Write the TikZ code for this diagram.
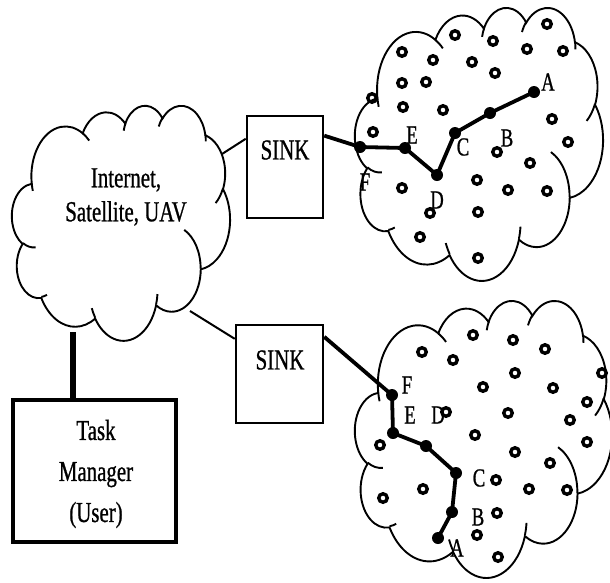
\documentclass[tikz,border=0pt]{standalone}
\usepackage{fontspec}
\setmainfont[FakeStretch=0.72, FakeBold=0.8]{Liberation Serif}
\usetikzlibrary{calc}
\newcommand\cloudarc[4]{\pgfextra{%
  \pgfmathparse{atan2((#1)*sin(#3),(#2)*cos(#3))}\xdef\cta{\pgfmathresult}%
  \pgfmathparse{atan2((#1)*sin(#3+#4),(#2)*cos(#3+#4))}\xdef\ctb{\pgfmathresult}%
  \pgfmathparse{\ctb-\cta}%
  \ifdim\pgfmathresult pt<0pt \pgfmathparse{\pgfmathresult+360}\fi
  \xdef\ctd{\pgfmathresult}}
  arc[start angle=\cta, delta angle=\ctd, x radius=#1, y radius=#2]}
\newcommand\wordcloud{%
  \draw[cloudline, fill=white] (390,1437)
    \cloudarc{675.3}{919}{-190.4875}{123.7805}
    \cloudarc{533.3}{726.7}{-144.1024}{89.9452}
    \cloudarc{436.5}{594.5}{-145.8079}{99.7230}
    \cloudarc{485.7}{659.5}{-130.9861}{117.2417}
    \cloudarc{533.3}{727.3}{-78.7089}{109.0269}
    \cloudarc{677.5}{922}{-46.2673}{130.2690}
    \cloudarc{578.5}{786.7}{0.6250}{114.0333}
    \cloudarc{675.2}{921.5}{22.4516}{115.1726}
    \cloudarc{772}{1054.3}{66.2426}{75.7110}
    \cloudarc{436}{591.8}{-274.9421}{146.7356}
    \cloudarc{434.5}{594.5}{-246.8285}{152.5189} -- cycle;
  \draw[cloudline]
    (469.3,2617.7) \cloudarc{434.5}{594.5}{86.7420}{26.4295}
    (692.8,3489.9) \cloudarc{436}{591.8}{73.6105}{11.4475}
    (1647.8,3909) \cloudarc{675.2}{921.5}{137.6242}{14.0811}
    (2882.7,3475.1) \cloudarc{675.2}{921.5}{6.4533}{15.9984}
    (3412.9,2295.4) \cloudarc{578.5}{786.7}{-70.2924}{70.9174}
    (4179.8,1535.4) \cloudarc{533.3}{727.3}{30.3180}{27.7515}
    (3832.4,542.6) \cloudarc{485.7}{659.5}{-13.7443}{14.8589}
    (2907.8,395.2) \cloudarc{485.7}{659.5}{-149.1815}{18.1954}
    (2214.1,472) \cloudarc{436.5}{594.5}{-163.4943}{17.6864}
    (1400,519.2) \cloudarc{675.3}{919}{-66.7070}{12.3194}
    (412.7,1578.9) \cloudarc{675.3}{919}{157.6544}{11.8582};}
\begin{document}
\begin{tikzpicture}[x=1pt,y=-1pt,
  cloudline/.style={line width=1.9pt},
  ring/.style={circle, draw, line width=3.4pt, minimum size=8.5pt, inner sep=0pt},
  dot/.style={circle, fill, minimum size=12pt, inner sep=0pt},
  lab/.style={font=\fontsize{26}{26}\selectfont, inner sep=0pt},
  big/.style={font=\fontsize{29}{29}\selectfont, inner sep=0pt},
  sinkbox/.style={draw, line width=2.5pt, inner sep=0pt},
  thin/.style={line width=2pt},
  thick3/.style={line width=3.8pt}
]
\useasboundingbox (0,0) rectangle (610,582);
% clouds
\begin{scope}[shift={(12,105)}, x=0.050463pt, y=-0.054398pt]\wordcloud\end{scope}
\begin{scope}[shift={(355,7)}, x=0.057407pt, y=-0.063194pt]\wordcloud\end{scope}
\begin{scope}[shift={(355,300)}, x=0.059491pt, y=-0.064120pt]\wordcloud\end{scope}
\node[big, align=center, font=\fontsize{29}{34}\selectfont] (net) at (126,197) {Internet,\\Satellite, UAV};
% boxes
\node[sinkbox, minimum width=76pt, minimum height=102pt] (s1) at (285,167) {};
\node[big] (s1t) at (285,150) {SINK};
\node[sinkbox, minimum width=87pt, minimum height=98pt] (s2) at (279.5,374) {};
\node[big] (s2t) at (280,360) {SINK};
\node[draw, line width=3.6pt, minimum width=163pt, minimum height=142pt, inner sep=0pt] (tm) at (94.5,471) {};
\node[big, align=center, font=\fontsize{29}{41}\selectfont] (tmt) at (96,474) {Task\\Manager\\(User)};
% connectors cloud-sinks
\coordinate (c1) at (222,154);
\coordinate (c2) at (190,311);
\coordinate (c3) at (73,332);
\draw[thin] (c1) -- ($(s1.north west)!0.23!(s1.south west)$);
\draw[thin] (c2) -- ($(s2.north west)!0.15!(s2.south west)$);
\draw[line width=5.5pt] (c3) -- (c3 |- tm.north);
% rings
\foreach \p [count=\i] in {(547,24),(493,41),(455,35),(402,52),(433,60),(472,62),(527,49),(563,51),(495,73),(402,83),(426,82),(372,98),(403,107),(443,110),(373,132),(552,119),(568,142),(497,152),(530,163),(477,180),(508,190),(547,191),(402,188),(430,213),(478,212),(420,237),(478,258)}
  \node[ring] (rt\i) at \p {};
\foreach \p [count=\i] in {(473,335),(513,340),(545,349),(422,352),(453,360),(515,373),(602,373),(483,387),(553,388),(587,402),(446,412),(508,413),(570,420),(475,435),(587,442),(380,445),(515,452),(550,463),(496,480),(529,489),(567,490),(423,489),(383,498),(497,513),(477,535),(498,557)}
  \node[ring] (rb\i) at \p {};
% top path
\node[dot] (tF) at (360,147) {};
\node[dot] (tE) at (405,148) {};
\node[dot] (tD) at (437,175) {};
\node[dot] (tC) at (455,133) {};
\node[dot] (tB) at (490,113) {};
\node[dot] (tA) at (534,92) {};
\draw[thick3] ($(s1.north east)!0.2!(s1.south east)$) -- (tF.center) -- (tE.center) -- (tD.center) -- (tC.center) -- (tB.center) -- (tA.center);
\node[lab] (ltA) at (548,82) {A};
\node[lab] (ltB) at (507,138) {B};
\node[lab] (ltC) at (463,147) {C};
\node[lab] (ltD) at (437,200) {D};
\node[lab] (ltE) at (412,135) {E};
\node[lab] (ltF) at (365,182) {F};
% bottom path
\node[dot] (bF) at (392,395) {};
\node[dot] (bE) at (393,433) {};
\node[dot] (bD) at (426,446) {};
\node[dot] (bC) at (456,473) {};
\node[dot] (bB) at (452,512) {};
\node[dot] (bA) at (438,538) {};
\draw[thick3] ($(s2.north east)!0.13!(s2.south east)$) -- (bF.center) -- (bE.center) -- (bD.center) -- (bC.center) -- (bB.center) -- (bA.center);
\node[lab] (lbA) at (457,548) {A};
\node[lab] (lbB) at (478,517) {B};
\node[lab] (lbC) at (479,478) {C};
\node[lab] (lbD) at (438,415) {D};
\node[lab] (lbE) at (410,415) {E};
\node[lab] (lbF) at (407,385) {F};
\end{tikzpicture}
\end{document}
